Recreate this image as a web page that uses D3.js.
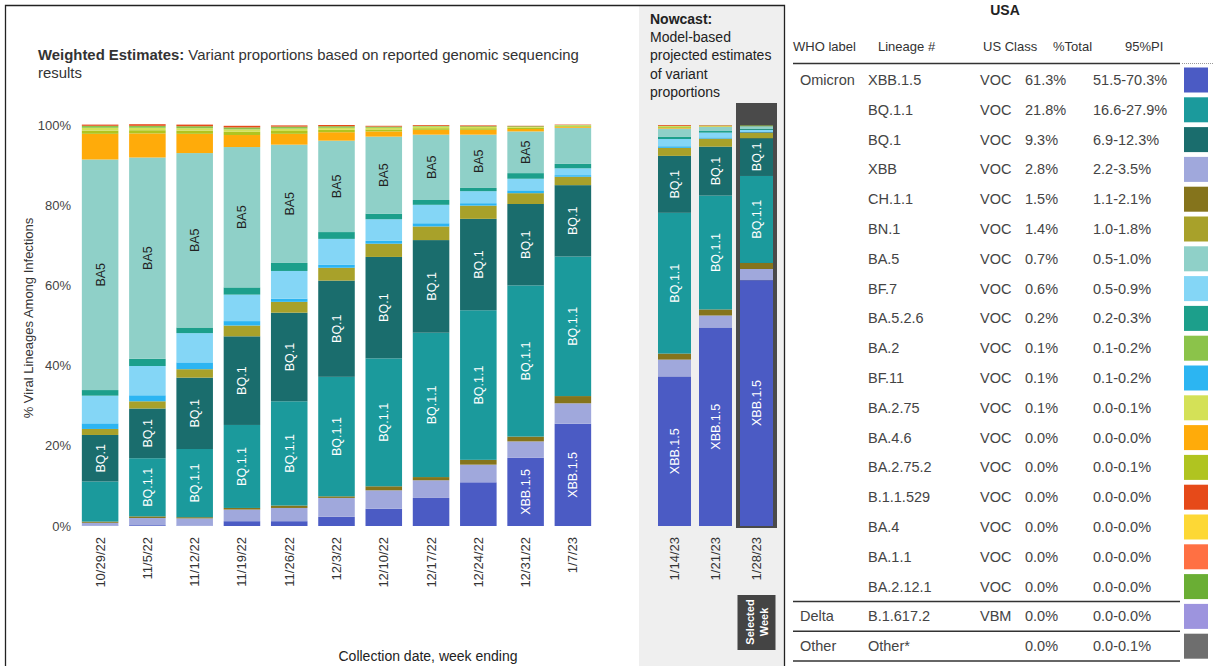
<!DOCTYPE html>
<html>
<head>
<meta charset="utf-8">
<script src="https://cdn.jsdelivr.net/npm/d3@7"></script>
<style>
  body { margin: 0; background: #fff; }
  svg { font-family: "Liberation Sans", Arial, sans-serif; display: block; }
</style>
</head>
<body>
<svg id="chart" width="1214" height="666"></svg>
<script>
// weeks
const weeks = ["10/29/22", "11/5/22", "11/12/22", "11/19/22", "11/26/22", "12/3/22",
  "12/10/22", "12/17/22", "12/24/22", "12/31/22", "1/7/23"]
const nowcastWeeks = ["1/14/23", "1/21/23", "1/28/23"]

// lineage shares (%) per week: 11 weighted weeks followed by 3 nowcast weeks
const XBB_1_5   = [0.1, 0.2, 0.1, 1.2, 1.2, 2.3, 4.3, 7.0, 10.9, 17.0, 25.5, 37.3, 49.5, 61.3]
const XBB       = [0.7, 1.8, 1.8, 2.9, 3.3, 4.7, 4.6, 4.4, 4.4, 4.1, 5.1, 4.2, 3.0, 2.8]
const CH_1_1    = [0.3, 0.4, 0.3, 0.4, 0.6, 0.4, 1.0, 0.8, 1.2, 1.2, 1.8, 1.5, 1.5, 1.5]
const BQ_1_1    = [10.0, 14.5, 17.0, 20.7, 26.0, 29.8, 31.9, 36.0, 37.3, 37.7, 34.8, 35.1, 28.4, 21.8]
const BQ_1      = [11.6, 12.4, 17.8, 22.1, 22.1, 24.0, 25.3, 23.1, 22.8, 20.3, 17.8, 14.2, 12.2, 9.3]
const BN_1      = [1.5, 1.8, 2.1, 2.7, 2.7, 3.2, 3.3, 3.4, 3.3, 2.7, 2.1, 2.0, 2.0, 1.4]
const BF_11     = [1.4, 1.5, 1.7, 1.1, 0.8, 0.8, 0.7, 0.8, 0.6, 0.7, 0.4, 0.4, 0.3, 0.1]
const BF_7      = [6.9, 7.3, 7.3, 6.6, 6.9, 6.4, 5.4, 4.6, 3.0, 2.9, 1.7, 1.8, 1.2, 0.6]
const BA_5_2_6  = [1.4, 1.8, 1.4, 1.8, 2.0, 1.7, 1.4, 1.2, 0.8, 1.4, 1.1, 0.6, 0.4, 0.2]
const BA_5      = [57.5, 50.2, 43.5, 35.0, 29.5, 22.8, 19.2, 16.3, 13.3, 10.4, 9.0, 2.0, 1.0, 0.7]
const BA_4_6    = [6.4, 6.0, 4.8, 3.0, 2.7, 2.1, 1.3, 1.2, 1.2, 0.6, 0.2, 0.2, 0.1, 0.0]
const BA_2_75_2 = [0.8, 0.8, 0.8, 0.8, 0.7, 0.6, 0.5, 0.4, 0.4, 0.3, 0.2, 0.2, 0.1, 0.0]
const BA_2_75   = [0.7, 0.6, 0.6, 0.6, 0.6, 0.5, 0.4, 0.4, 0.3, 0.2, 0.2, 0.2, 0.1, 0.1]
const BA_2      = [0.5, 0.5, 0.5, 0.5, 0.5, 0.4, 0.3, 0.2, 0.2, 0.2, 0.1, 0.1, 0.1, 0.1]
const B_1_1_529 = [0.3, 0.4, 0.4, 0.4, 0.3, 0.3, 0.2, 0.2, 0.2, 0.1, 0.1, 0.2, 0.1, 0.0]

// stacking order, bottom to top
const stackKeys = ["XBB.1.5", "XBB", "CH.1.1", "BQ.1.1", "BQ.1", "BN.1", "BF.11", "BF.7",
  "BA.5.2.6", "BA.5", "BA.4.6", "BA.2.75.2", "BA.2.75", "BA.2", "B.1.1.529"]
const stackSeries = [XBB_1_5, XBB, CH_1_1, BQ_1_1, BQ_1, BN_1, BF_11, BF_7,
  BA_5_2_6, BA_5, BA_4_6, BA_2_75_2, BA_2_75, BA_2, B_1_1_529]

// table rows (USA nowcast for selected week)
const tableWho     = ["Omicron", "", "", "", "", "", "", "", "", "", "", "", "", "", "", "", "", "", "Delta", "Other"]
const tableLineage = ["XBB.1.5", "BQ.1.1", "BQ.1", "XBB", "CH.1.1", "BN.1", "BA.5", "BF.7", "BA.5.2.6",
  "BA.2", "BF.11", "BA.2.75", "BA.4.6", "BA.2.75.2", "B.1.1.529", "BA.4", "BA.1.1", "BA.2.12.1",
  "B.1.617.2", "Other*"]
const tableClass   = ["VOC", "VOC", "VOC", "VOC", "VOC", "VOC", "VOC", "VOC", "VOC", "VOC", "VOC",
  "VOC", "VOC", "VOC", "VOC", "VOC", "VOC", "VOC", "VBM", ""]
const tableTotal   = ["61.3%", "21.8%", "9.3%", "2.8%", "1.5%", "1.4%", "0.7%", "0.6%", "0.2%", "0.1%",
  "0.1%", "0.1%", "0.0%", "0.0%", "0.0%", "0.0%", "0.0%", "0.0%", "0.0%", "0.0%"]
const tablePI      = ["51.5-70.3%", "16.6-27.9%", "6.9-12.3%", "2.2-3.5%", "1.1-2.1%", "1.0-1.8%",
  "0.5-1.0%", "0.5-0.9%", "0.2-0.3%", "0.1-0.2%", "0.1-0.2%", "0.0-0.1%", "0.0-0.0%", "0.0-0.1%",
  "0.0-0.0%", "0.0-0.0%", "0.0-0.0%", "0.0-0.0%", "0.0-0.0%", "0.0-0.1%"]

const lineageColor = {
  "XBB.1.5": "#4b5bc4", "BQ.1.1": "#1b9a9c", "BQ.1": "#1a6d6d", "XBB": "#a0a8dc",
  "CH.1.1": "#85741c", "BN.1": "#a8a12a", "BA.5": "#8fd0c8", "BF.7": "#84d6f6",
  "BA.5.2.6": "#1c9f8b", "BA.2": "#8bc34a", "BF.11": "#2cb5f2", "BA.2.75": "#d4e157",
  "BA.4.6": "#ffab0a", "BA.2.75.2": "#b0c420", "B.1.1.529": "#e64a19", "BA.4": "#fdd835",
  "BA.1.1": "#ff7043", "BA.2.12.1": "#6aae34", "B.1.617.2": "#9d94de", "Other*": "#6e6e6e"
}
const barLabel = {"XBB.1.5": "XBB.1.5", "BQ.1.1": "BQ.1.1", "BQ.1": "BQ.1", "BA.5": "BA5"}

const svg = d3.select('#chart')

// rows for d3.stack
const allWeeks = weeks.concat(nowcastWeeks)
const rows = allWeeks.map((w, i) => {
  let r = {week: w}
  stackKeys.forEach((k, j) => { r[k] = stackSeries[j][i] })
  return r
})
const stacked = d3.stack().keys(stackKeys)(rows)

// panels
svg.append('rect').attr('x', 639).attr('y', 6).attr('width', 145).attr('height', 660).attr('fill', '#efefef')
svg.append('path').attr('d', 'M5.5,666V5.5H784.5V666').attr('fill', 'none').attr('stroke', '#222').attr('stroke-width', 1.3)

const yScale = d3.scaleLinear().domain([0, 100]).range([526, 125])
const xScale = d3.scaleBand().domain(weeks).range([76.5, 596.5]).paddingInner(0.227).paddingOuter(0.113)
const xNow = d3.scaleBand().domain(nowcastWeeks).range([653.9, 777.1]).paddingInner(0.195).paddingOuter(0.1)

// left title
const title = svg.append('text').attr('x', 38).attr('y', 60).attr('font-size', 14.9).attr('fill', '#333')
title.append('tspan').attr('font-weight', 700).text('Weighted Estimates:')
title.append('tspan').text(' Variant proportions based on reported genomic sequencing')
svg.append('text').attr('x', 38).attr('y', 78).attr('font-size', 14.9).attr('fill', '#333').text('results')

// y axis
const yAxisG = svg.append('g').attr('transform', 'translate(71,0)')
  .call(d3.axisLeft(yScale).tickValues([0, 20, 40, 60, 80, 100]).tickFormat(d => d + '%').tickSize(0).tickPadding(0))
yAxisG.select('.domain').remove()
yAxisG.selectAll('text').attr('font-size', 13).attr('fill', '#444').attr('font-family', '"Liberation Sans", Arial, sans-serif')

svg.append('text')
  .attr('transform', 'translate(33,318) rotate(-90)')
  .attr('text-anchor', 'middle').attr('font-size', 13).attr('fill', '#333')
  .text('% Viral Lineages Among Infections')

// nowcast selected week frame
const selWeek = nowcastWeeks[2]
svg.append('rect')
  .attr('x', xNow(selWeek) - 4).attr('y', 103)
  .attr('width', xNow.bandwidth() + 8).attr('height', yScale(0) - 103 + 2)
  .attr('fill', '#4a4a4a')

// bars
function xOf(w) { return weeks.includes(w) ? xScale(w) : xNow(w) }
function bwOf(w) { return weeks.includes(w) ? xScale.bandwidth() : xNow.bandwidth() }

const layers = svg.append('g').selectAll('g').data(stacked).join('g')
  .attr('fill', d => lineageColor[d.key])
layers.selectAll('rect').data(d => d).join('rect')
  .attr('x', d => xOf(d.data.week))
  .attr('width', d => bwOf(d.data.week))
  .attr('y', d => yScale(d[1]))
  .attr('height', d => Math.max(0, yScale(d[0]) - yScale(d[1])))

// in-bar labels
const labelG = svg.append('g')
stacked.forEach(layer => {
  if (!barLabel[layer.key]) return
  layer.forEach(d => {
    const v = d[1] - d[0]
    const h = yScale(d[0]) - yScale(d[1])
    const cx = xOf(d.data.week) + bwOf(d.data.week) / 2
    const cy = (yScale(d[0]) + yScale(d[1])) / 2
    const t = labelG.append('text')
      .attr('transform', `translate(${cx + 4.5},${cy}) rotate(-90)`)
      .attr('text-anchor', 'middle').attr('font-size', 12.5)
      .attr('fill', layer.key === 'BA.5' ? '#222' : '#fff')
      .text(barLabel[layer.key])
    if (v < 9.2 || h < t.node().getComputedTextLength() + 6) t.remove()
  })
})

// date labels
function dateLabels(scale) {
  svg.append('g').selectAll('text').data(scale.domain()).join('text')
    .attr('transform', d => `translate(${scale(d) + scale.bandwidth() / 2 + 4.5},537) rotate(-90)`)
    .attr('text-anchor', 'end').attr('font-size', 13).attr('fill', '#333')
    .text(d => d)
}
dateLabels(xScale)
dateLabels(xNow)

svg.append('text').attr('x', 428).attr('y', 661).attr('text-anchor', 'middle')
  .attr('font-size', 14).attr('fill', '#222').text('Collection date, week ending')

// nowcast title
const nowLines = ['Model-based', 'projected estimates', 'of variant', 'proportions']
svg.append('text').attr('x', 650).attr('y', 24).attr('font-size', 14).attr('font-weight', 700)
  .attr('fill', '#222').text('Nowcast:')
svg.append('g').selectAll('text').data(nowLines).join('text')
  .attr('x', 650).attr('y', (d, i) => 42 + i * 18.3)
  .attr('font-size', 14).attr('fill', '#222').text(d => d)

// selected week tag
const tagX = xNow(selWeek) + xNow.bandwidth() / 2
svg.append('rect').attr('x', tagX - 19).attr('y', 595).attr('width', 38).attr('height', 55).attr('fill', '#444')
svg.append('text').attr('transform', `translate(${tagX - 2},622) rotate(-90)`)
  .attr('text-anchor', 'middle').attr('font-size', 11).attr('font-weight', 700).attr('fill', '#fff').text('Selected')
svg.append('text').attr('transform', `translate(${tagX + 12},622) rotate(-90)`)
  .attr('text-anchor', 'middle').attr('font-size', 11).attr('font-weight', 700).attr('fill', '#fff').text('Week')

// table
svg.append('text').attr('x', 1005).attr('y', 15).attr('text-anchor', 'middle')
  .attr('font-size', 14).attr('font-weight', 700).attr('fill', '#222').text('USA')

const headers = [["WHO label", 793], ["Lineage #", 878], ["US Class", 983], ["%Total", 1053], ["95%PI", 1125]]
svg.append('g').selectAll('text').data(headers).join('text')
  .attr('x', d => d[1]).attr('y', 51).attr('font-size', 13).attr('fill', '#333').text(d => d[0])

svg.append('line').attr('x1', 793).attr('x2', 1180).attr('y1', 63.5).attr('y2', 63.5)
  .attr('stroke', '#333').attr('stroke-width', 1.5)
svg.append('line').attr('x1', 1182).attr('x2', 1213).attr('y1', 63.5).attr('y2', 63.5)
  .attr('stroke', '#999').attr('stroke-width', 1).attr('stroke-dasharray', '1,1')

const rowY = d3.scaleLinear().domain([0, 1]).range([80, 109.8])
const tableG = svg.append('g').attr('font-size', 14.5).attr('fill', '#444')
const cols = [[tableWho, 800], [tableLineage, 868], [tableClass, 980], [tableTotal, 1025], [tablePI, 1093]]
cols.forEach(([arr, x]) => {
  tableG.append('g').selectAll('text').data(arr).join('text')
    .attr('x', x).attr('y', (d, i) => rowY(i) + 5).text(d => d)
})
tableG.append('g').selectAll('rect').data(tableLineage).join('rect')
  .attr('x', 1184).attr('width', 24).attr('height', 25)
  .attr('y', (d, i) => rowY(i) - 12.5)
  .attr('fill', d => lineageColor[d])

;[17.5, 18.5, 19.5].forEach(i => {
  svg.append('line').attr('x1', 793).attr('x2', 1180).attr('y1', rowY(i)).attr('y2', rowY(i))
    .attr('stroke', '#333').attr('stroke-width', 1.5)
})
</script>
</body>
</html>
